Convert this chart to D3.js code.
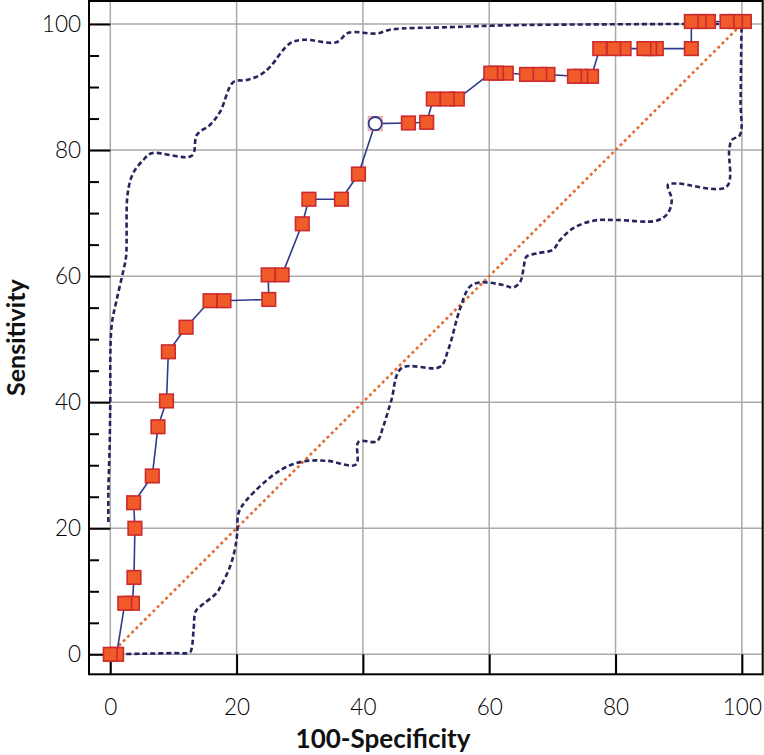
<!DOCTYPE html>
<html>
<head>
<meta charset="utf-8">
<script src="https://cdn.jsdelivr.net/npm/d3@7"></script>
<style>
  html, body { margin: 0; padding: 0; background: #fff; }
  svg { display: block; }
</style>
</head>
<body>
<svg id="chart" width="764" height="755"></svg>
<script>
// ---------- data ----------
const xTicks = [0, 20, 40, 60, 80, 100];
const yTicks = [0, 20, 40, 60, 80, 100];
const yMinorTicks = [5, 10, 15, 25, 30, 35, 45, 50, 55, 65, 70, 75, 85, 90, 95];
const xLabel = "100-Specificity";
const yLabel = "Sensitivity";

// ROC curve points (100-Specificity, Sensitivity)
const rocX = [0, 1.0, 2.3, 3.5, 3.75, 3.9, 3.7, 6.65, 7.55, 8.9, 9.2, 12.0, 15.8, 18.0, 25.1, 25.0, 27.2, 30.4, 31.45, 36.6, 39.3, 41.95, 47.2, 50.1, 51.15, 53.35, 54.95, 60.25, 61.15, 62.7, 65.9, 68.0, 69.3, 73.5, 74.5, 76.2, 77.5, 79.7, 81.35, 84.5, 85.4, 86.45, 92.0, 92.0, 93.25, 94.7, 97.65, 99.0, 100.4];
const rocY = [0, 0, 8.1, 8.1, 12.2, 20.0, 24.05, 28.3, 36.1, 40.2, 48.0, 51.9, 56.1, 56.1, 56.3, 60.2, 60.2, 68.3, 72.2, 72.2, 76.2, 84.2, 84.3, 84.4, 88.1, 88.1, 88.1, 92.2, 92.2, 92.2, 92.0, 92.0, 92.0, 91.7, 91.7, 91.7, 96.1, 96.1, 96.1, 96.1, 96.1, 96.1, 96.1, 100.4, 100.4, 100.4, 100.4, 100.4, 100.4];
const criterionIndex = 21; // open-circle point

// Upper confidence bound
const ciUpX = [-0.3, -0.3, -0.1, 0, 0.2, 1.0, 2.1, 2.5, 2.75, 3.6, 5.2, 6.55, 12.9, 13.7, 15.8, 17.4, 19.5, 21.6, 23.7, 25.3, 28.4, 30.6, 35.8, 37.7, 42.2, 44.3, 53.8, 63.3, 90.6, 100];
const ciUpY = [21, 26, 33, 40, 52, 56.2, 61, 63.1, 73.1, 76.3, 78.4, 79.5, 79.1, 82.4, 84.0, 86.1, 90.8, 91.1, 91.9, 93.2, 96.9, 97.5, 97.1, 98.6, 98.5, 99.1, 99.5, 99.8, 100, 100];

// Lower confidence bound
const ciLoX = [0, 5, 10, 12.6, 12.9, 13.2, 13.5, 14.2, 16.8, 17.6, 18.95, 19.7, 20.1, 20.3, 21.6, 26.9, 30.6, 34.3, 38.9, 39.3, 42.2, 43.2, 44.5, 46.1, 52.2, 53.5, 55.4, 56.9, 58.5, 62.2, 63.8, 64.9, 65.4, 65.9, 67.5, 70.1, 71.2, 73.3, 76.5, 80.2, 86.5, 88.3, 88.9, 88.3, 89.7, 97.6, 98.0, 98.4, 99.7, 99.8, 99.95, 100];
const ciLoY = [0, 0.1, 0.2, 0.3, 1.0, 4.0, 6.8, 7.55, 9.7, 11.0, 13.9, 16.5, 19.2, 22.4, 24.5, 29.2, 30.6, 30.7, 30.1, 33.7, 33.8, 36.1, 40.3, 45.4, 45.6, 48.3, 54.9, 58.3, 59.0, 58.6, 58.2, 59.1, 61.0, 63.1, 63.6, 64.2, 65.7, 67.6, 68.8, 68.9, 68.8, 70.0, 72.1, 74.5, 74.7, 74.2, 80.0, 81.6, 82.4, 87.9, 99, 100];

// Reference diagonal
const diagX = [0, 100];
const diagY = [0, 100];

// ---------- layout ----------
const W = 764, H = 755;
const margin = { left: 89, top: 1, right: 1.3, bottom: 80.7 };
const xDomain = [-3.37, 103.3];
const yDomain = [-3.17, 103.65];

const svg = d3.select("#chart");
const x = d3.scaleLinear().domain(xDomain).range([margin.left, W - margin.right]);
const y = d3.scaleLinear().domain(yDomain).range([H - margin.bottom, margin.top]);

const fontLight = "Lato, 'Open Sans', sans-serif";

// gridlines
const grid = svg.append("g");
grid.selectAll("line.gx").data(xTicks).join("line")
  .attr("x1", d => x(d)).attr("x2", d => x(d))
  .attr("y1", y.range()[1]).attr("y2", y.range()[0])
  .attr("stroke", "#aaaaaa").attr("stroke-width", 1.5);
grid.selectAll("line.gy").data(yTicks).join("line")
  .attr("y1", d => y(d)).attr("y2", d => y(d))
  .attr("x1", x.range()[0]).attr("x2", x.range()[1])
  .attr("stroke", "#aaaaaa").attr("stroke-width", 1.5);

// axes
const yAxis = d3.axisLeft(y).tickValues(yTicks).tickSizeInner(-(x(0) - x.range()[0])).tickSizeOuter(0).tickPadding(8);
const gy = svg.append("g").attr("transform", `translate(${x.range()[0]},0)`).call(yAxis);
gy.select(".domain").remove();
gy.selectAll(".tick line").attr("stroke", "#000").attr("stroke-width", 2);
gy.selectAll(".tick text").attr("font-family", fontLight).attr("font-weight", 300)
  .attr("font-size", 22.5).attr("fill", "#000");

const yMinor = d3.axisLeft(y).tickValues(yMinorTicks).tickSizeInner(-10).tickSizeOuter(0).tickFormat("");
const gym = svg.append("g").attr("transform", `translate(${x.range()[0]},0)`).call(yMinor);
gym.select(".domain").remove();
gym.selectAll(".tick line").attr("stroke", "#000").attr("stroke-width", 2);

const xAxis = d3.axisBottom(x).tickValues(xTicks).tickSizeInner(-(y.range()[0] - y(0))).tickSizeOuter(0).tickPadding(25);
const gx = svg.append("g").attr("transform", `translate(0,${y.range()[0]})`).call(xAxis);
gx.select(".domain").remove();
gx.selectAll(".tick line").attr("stroke", "#000").attr("stroke-width", 2);
gx.selectAll(".tick text").attr("font-family", fontLight).attr("font-weight", 300)
  .attr("font-size", 22.5).attr("fill", "#000");

// frame
svg.append("rect")
  .attr("x", x.range()[0]).attr("y", y.range()[1])
  .attr("width", x.range()[1] - x.range()[0]).attr("height", y.range()[0] - y.range()[1])
  .attr("fill", "none").attr("stroke", "#000").attr("stroke-width", 2);

// diagonal
const lineGen = d3.line().x(d => x(d[0])).y(d => y(d[1]));
svg.append("path")
  .attr("d", lineGen(d3.zip(diagX, diagY)))
  .attr("fill", "none").attr("stroke", "#e36d35").attr("stroke-width", 2.6)
  .attr("stroke-dasharray", "3,3");

// confidence bounds
const smooth = d3.line().x(d => x(d[0])).y(d => y(d[1])).curve(d3.curveCatmullRom.alpha(0.5));
[[ciUpX, ciUpY], [ciLoX, ciLoY]].forEach(([cx, cy]) => {
  svg.append("path")
    .attr("d", smooth(d3.zip(cx, cy)))
    .attr("fill", "none").attr("stroke", "#25255e").attr("stroke-width", 2.6)
    .attr("stroke-dasharray", "5,3");
});

// ROC line
const roc = d3.zip(rocX, rocY);
svg.append("path")
  .attr("d", lineGen(roc))
  .attr("fill", "none").attr("stroke", "#2e3a8c").attr("stroke-width", 1.6);

// markers (drawn in reverse so left markers sit on top)
const S = 13.6;
const pts = roc.map((d, i) => ({ d, i })).reverse();
svg.append("g").selectAll("rect").data(pts).join("rect")
  .attr("x", p => x(p.d[0]) - S / 2).attr("y", p => y(p.d[1]) - S / 2)
  .attr("width", S).attr("height", S)
  .attr("fill", p => p.i === criterionIndex ? "#ffffff" : "#f15a29")
  .attr("stroke", p => p.i === criterionIndex ? "#f2a3a3" : "#cc2a2e")
  .attr("stroke-width", 1.6);

const c = roc[criterionIndex];
svg.append("circle")
  .attr("cx", x(c[0])).attr("cy", y(c[1])).attr("r", 6.6)
  .attr("fill", "#fff").attr("stroke", "#2e3a8c").attr("stroke-width", 1.8);

// axis titles
svg.append("text")
  .attr("x", 383).attr("y", 748)
  .attr("text-anchor", "middle")
  .attr("font-family", "Lato, 'Open Sans', sans-serif").attr("font-weight", 700)
  .attr("font-size", 26).attr("fill", "#111")
  .text(xLabel);

svg.append("text")
  .attr("transform", `translate(25,${(y.range()[0] + y.range()[1]) / 2}) rotate(-90)`)
  .attr("text-anchor", "middle")
  .attr("font-family", "Lato, 'Open Sans', sans-serif").attr("font-weight", 700)
  .attr("font-size", 25).attr("fill", "#111")
  .text(yLabel);
</script>
</body>
</html>
